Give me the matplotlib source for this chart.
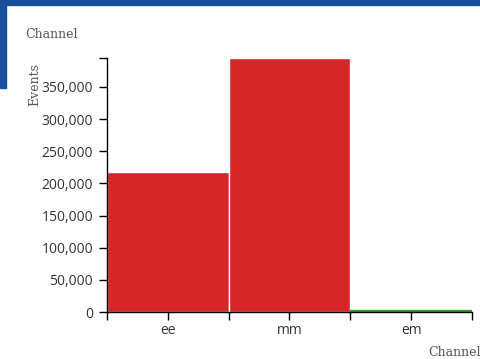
import matplotlib.pyplot as plt
from matplotlib.patches import Rectangle
from matplotlib.ticker import FuncFormatter, FixedLocator

channels = ["ee", "mm", "em"]
events = [217000, 395000, 2500]
bar_colors = ["#d62728", "#d62728", "#2ca02c"]
edge_colors = ["white", "white", "#2ca02c"]

W, H = 481, 359
fig = plt.figure(figsize=(W / 100, H / 100), dpi=100)

# blue page frame: strip along the top and down the left side
fig.patches.append(Rectangle((0, 1 - 5 / H), 1, 5 / H, transform=fig.transFigure,
                             color="#1a4f9c", zorder=0))
fig.patches.append(Rectangle((0, 1 - 88 / H), 6 / W, 88 / H, transform=fig.transFigure,
                             color="#1a4f9c", zorder=0))

x0, x1, y0, y1 = 107, 472, 312, 58
ax = fig.add_axes([x0 / W, 1 - y0 / H, (x1 - x0) / W, (y0 - y1) / H])

xs = range(len(channels))
ax.bar(xs, events, width=1.0, color=bar_colors, edgecolor=edge_colors, linewidth=1.0)
ax.set_xlim(-0.5, len(channels) - 0.5)
ax.set_ylim(0, max(events))

for s in ["top", "right"]:
    ax.spines[s].set_visible(False)
for s in ["left", "bottom"]:
    ax.spines[s].set_color("black")
    ax.spines[s].set_linewidth(1.0)
    ax.spines[s].set_zorder(3)

ax.set_xticks(list(xs))
ax.set_xticklabels(channels)
ax.xaxis.set_minor_locator(FixedLocator([i - 0.5 for i in range(len(channels) + 1)]))
ax.set_yticks(range(0, 400000, 50000))
ax.yaxis.set_minor_locator(FixedLocator([max(events)]))
ax.yaxis.set_major_formatter(FuncFormatter(lambda v, p: f"{int(v):,}"))

ax.tick_params(which="both", length=6, width=1, color="black", direction="out")
ax.tick_params(axis="both", which="major", labelsize=10, labelcolor="#333333")
ax.tick_params(axis="y", which="major", pad=4)
ax.tick_params(axis="x", which="major", pad=2)
for lab in ax.get_xticklabels() + ax.get_yticklabels():
    lab.set_fontfamily("Open Sans")

serif = dict(family="DejaVu Serif", size=9, color="#555555")
fig.text(25 / W, 1 - 34 / H, "Channel", ha="left", va="center", **serif)
fig.text(35 / W, 1 - 85 / H, "Events", ha="center", va="center", rotation=90, **serif)
fig.text(481 / W, 1 - 353 / H, "Channel", ha="right", va="center", **serif)

fig.savefig("out.png", dpi=100)
